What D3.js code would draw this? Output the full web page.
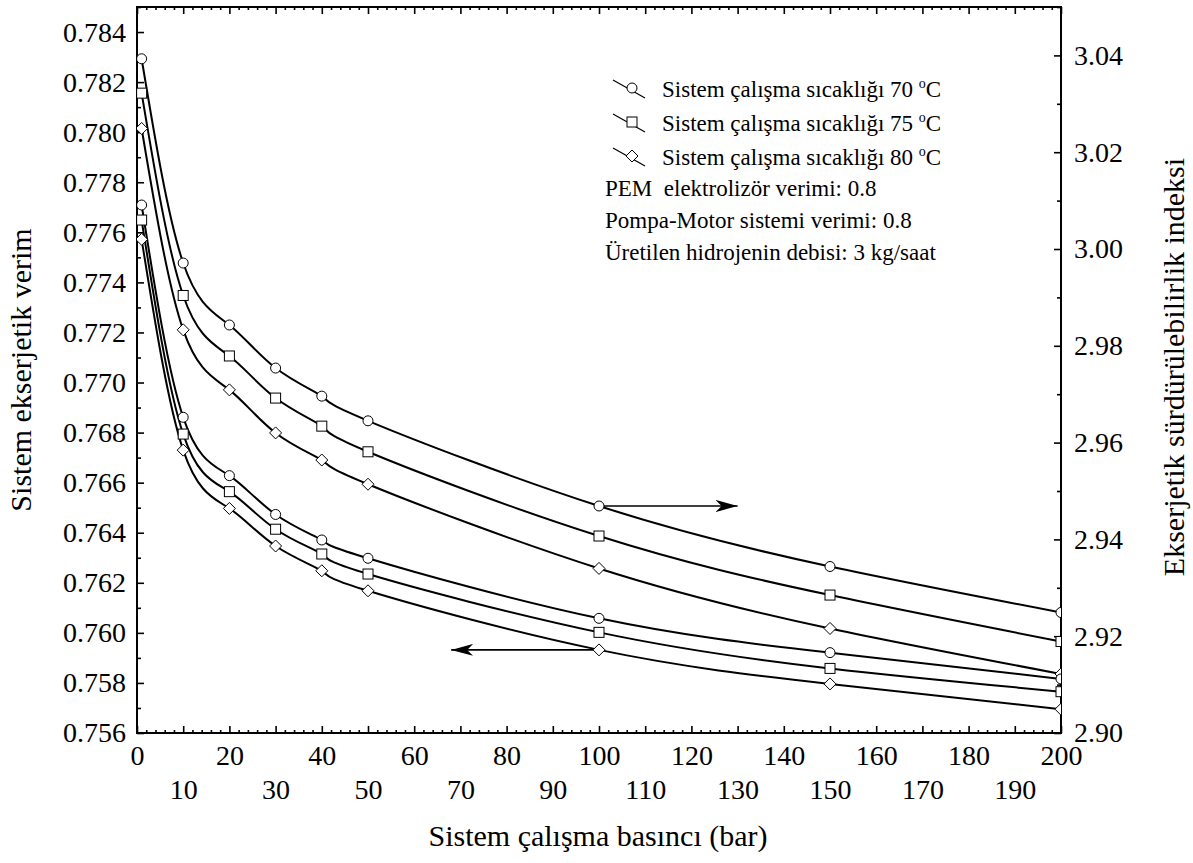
<!DOCTYPE html>
<html>
<head>
<meta charset="utf-8">
<script src="https://cdn.jsdelivr.net/npm/d3@7"></script>
<style>
  body { margin: 0; background: #fff; }
  text { font-family: 'Liberation Serif', 'DejaVu Serif', serif; }
</style>
</head>
<body>
<div class="chart"></div>
<script>
// pressure (bar)
const pressure = [1, 10, 20, 30, 40, 50, 100, 150, 200];

// exergetic sustainability index (right axis)
const esi70 = [3.0393, 2.9971, 2.9843, 2.9754, 2.9696, 2.9645, 2.9469, 2.9344, 2.9249];
const esi75 = [3.0322, 2.9904, 2.9779, 2.9692, 2.9634, 2.9581, 2.9407, 2.9285, 2.9189];
const esi80 = [3.0249, 2.9833, 2.9709, 2.9620, 2.9564, 2.9514, 2.9340, 2.9216, 2.9122];

// exergetic efficiency (left axis)
const eff70 = [0.77709, 0.76861, 0.76628, 0.76473, 0.76371, 0.76298, 0.76058, 0.75921, 0.75816];
const eff75 = [0.77649, 0.76794, 0.76564, 0.76414, 0.76315, 0.76235, 0.76002, 0.75858, 0.75765];
const eff80 = [0.77572, 0.76730, 0.76497, 0.76347, 0.76248, 0.76168, 0.75932, 0.75796, 0.75695];

const xTicks = [0, 10, 20, 30, 40, 50, 60, 70, 80, 90, 100, 110, 120, 130, 140, 150, 160, 170, 180, 190, 200];
const leftTicks = [0.756, 0.758, 0.760, 0.762, 0.764, 0.766, 0.768, 0.770, 0.772, 0.774, 0.776, 0.778, 0.780, 0.782, 0.784];
const rightTicks = [2.90, 2.92, 2.94, 2.96, 2.98, 3.00, 3.02, 3.04];

const legendLabels = ['Sistem çalışma sıcaklığı 70 ', 'Sistem çalışma sıcaklığı 75 ', 'Sistem çalışma sıcaklığı 80 '];
const noteLabels = ['PEM  elektrolizör verimi: 0.8', 'Pompa-Motor sistemi verimi: 0.8', 'Üretilen hidrojenin debisi: 3 kg/saat'];

const FONT = "Liberation Serif";

let margin = {top: 7, right: 132, bottom: 130, left: 137};
let W = 1193, H = 863;
let w = W - margin.left - margin.right;
let h = H - margin.top - margin.bottom;

let svg = d3.select('.chart').append('svg')
    .attr('width', W)
    .attr('height', H)
  .append('g')
    .attr('transform', `translate(${margin.left},${margin.top})`);

let x = d3.scaleLinear().domain([0, 200]).range([0, w]);
let yL = d3.scaleLinear().domain([0.756, 0.785]).range([h, 0]);
let yR = d3.scaleLinear().domain([2.90, 3.05]).range([h, 0]);

const fs = 28;
const tfs = 30;

// minor ticks
let xMinor = d3.range(0, 201, 2).filter(v => v % 10 !== 0);
svg.append('g').attr('transform', `translate(0,${h})`)
  .call(d3.axisBottom(x).tickValues(xMinor).tickSize(-3).tickSizeOuter(0).tickFormat(''));
svg.append('g')
  .call(d3.axisTop(x).tickValues(xMinor).tickSize(-3).tickSizeOuter(0).tickFormat(''));
svg.append('g')
  .call(d3.axisLeft(yL).tickValues(leftTicks.map(v => v + 0.001)).tickSize(-4).tickSizeOuter(0).tickFormat(''));
svg.append('g').attr('transform', `translate(${w},0)`)
  .call(d3.axisRight(yR).tickValues(rightTicks.map(v => v + 0.01)).tickSize(-4).tickSizeOuter(0).tickFormat(''));

// major ticks
let gx = svg.append('g').attr('transform', `translate(0,${h})`)
  .call(d3.axisBottom(x).tickValues(xTicks).tickSize(-7).tickSizeOuter(0).tickFormat(d3.format('d')));
gx.selectAll('text')
  .attr('font-size', fs)
  .attr('y', (d, i) => i % 2 === 0 ? 12 : 46)
  .attr('dy', '0.71em');

svg.append('g')
  .call(d3.axisTop(x).tickValues(xTicks).tickSize(-7).tickSizeOuter(0).tickFormat(''));

let gl = svg.append('g')
  .call(d3.axisLeft(yL).tickValues(leftTicks).tickSize(-7).tickSizeOuter(0).tickFormat(d3.format('.3f')));
gl.selectAll('text').attr('font-size', fs).attr('x', -11);

let gr = svg.append('g').attr('transform', `translate(${w},0)`)
  .call(d3.axisRight(yR).tickValues(rightTicks).tickSize(-7).tickSizeOuter(0).tickFormat(d3.format('.2f')));
gr.selectAll('text').attr('font-size', fs).attr('x', 13);

svg.selectAll('.domain').remove();
svg.selectAll('.tick line').attr('stroke', '#000').attr('stroke-width', 1.6);

svg.append('rect')
  .attr('width', w).attr('height', h)
  .attr('fill', 'none').attr('stroke', '#000').attr('stroke-width', 2);

// axis titles
svg.append('text')
  .attr('transform', `translate(${-106},${363}) rotate(-90)`)
  .attr('text-anchor', 'middle').attr('font-size', tfs)
  .text('Sistem ekserjetik verim');
svg.append('text')
  .attr('transform', `translate(${w + 123},${360}) rotate(-90)`)
  .attr('text-anchor', 'middle').attr('font-size', tfs)
  .text('Ekserjetik sürdürülebilirlik indeksi');
svg.append('text')
  .attr('x', x(100) - 1).attr('y', h + 113)
  .attr('text-anchor', 'middle').attr('font-size', tfs)
  .text('Sistem çalışma basıncı (bar)');

// clip
svg.append('clipPath').attr('id', 'clip')
  .append('rect').attr('width', w).attr('height', h);

let plot = svg.append('g').attr('clip-path', 'url(#clip)');

let series = [
  {vals: esi70, y: yR, shape: 'circle'},
  {vals: esi75, y: yR, shape: 'square'},
  {vals: esi80, y: yR, shape: 'diamond'},
  {vals: eff70, y: yL, shape: 'circle'},
  {vals: eff75, y: yL, shape: 'square'},
  {vals: eff80, y: yL, shape: 'diamond'}
];

function drawMarker(g, shape, cx, cy) {
  if (shape === 'circle') {
    g.append('circle').attr('cx', cx).attr('cy', cy).attr('r', 5)
      .attr('fill', '#fff').attr('stroke', '#000').attr('stroke-width', 1);
  } else if (shape === 'square') {
    g.append('rect').attr('x', cx - 5).attr('y', cy - 5).attr('width', 10).attr('height', 10)
      .attr('fill', '#fff').attr('stroke', '#000').attr('stroke-width', 1);
  } else {
    g.append('path').attr('d', `M${cx},${cy - 6}L${cx + 6},${cy}L${cx},${cy + 6}L${cx - 6},${cy}Z`)
      .attr('fill', '#fff').attr('stroke', '#000').attr('stroke-width', 1);
  }
}

series.forEach(s => {
  let line = d3.line()
    .x((d, i) => x(pressure[i]))
    .y(d => s.y(d))
    .curve(d3.curveNatural);
  plot.append('path')
    .datum(s.vals)
    .attr('fill', 'none')
    .attr('stroke', '#000')
    .attr('stroke-width', 2)
    .attr('d', line);
});

series.forEach(s => {
  s.vals.forEach((v, i) => drawMarker(plot, s.shape, x(pressure[i]), s.y(v)));
});

// arrows
let defs = svg.append('defs');
defs.append('marker')
  .attr('id', 'arrow')
  .attr('viewBox', '0 0 22 12')
  .attr('refX', 22).attr('refY', 6)
  .attr('markerWidth', 22).attr('markerHeight', 12)
  .attr('markerUnits', 'userSpaceOnUse')
  .attr('orient', 'auto')
  .append('path')
  .attr('d', 'M0,0L22,6L0,12L6,6Z')
  .attr('fill', '#000');

let yA1 = yR(esi70[6]);
svg.append('line')
  .attr('x1', x(100) + 5).attr('y1', yA1).attr('x2', x(130)).attr('y2', yA1)
  .attr('stroke', '#000').attr('stroke-width', 1.6)
  .attr('marker-end', 'url(#arrow)');
let yA2 = yL(eff80[6]);
svg.append('line')
  .attr('x1', x(100) - 6).attr('y1', yA2).attr('x2', x(68)).attr('y2', yA2)
  .attr('stroke', '#000').attr('stroke-width', 1.6)
  .attr('marker-end', 'url(#arrow)');

// legend
let lg = svg.append('g').attr('transform', 'translate(476,0)');
const lfs = 23;
legendLabels.forEach((t, i) => {
  let cy = 81 + i * 34;
  lg.append('line')
    .attr('x1', 0).attr('y1', cy - 8).attr('x2', 32).attr('y2', cy + 10)
    .attr('stroke', '#000').attr('stroke-width', 1.2);
  drawMarker(lg, ['circle', 'square', 'diamond'][i], 19, cy);
  let tx = lg.append('text').attr('x', 49).attr('y', cy + 9).attr('font-size', lfs);
  tx.append('tspan').text(t);
  tx.append('tspan').attr('font-size', 14).attr('dy', -9).text('o');
  tx.append('tspan').attr('dy', 9).text('C');
});
noteLabels.forEach((t, i) => {
  lg.append('text')
    .attr('x', -8).attr('y', 189 + i * 32)
    .attr('font-size', lfs)
    .attr('xml:space', 'preserve')
    .text(t);
});

d3.selectAll('text').attr('font-family', FONT);
d3.selectAll('g').attr('font-family', null);
</script>
</body>
</html>
